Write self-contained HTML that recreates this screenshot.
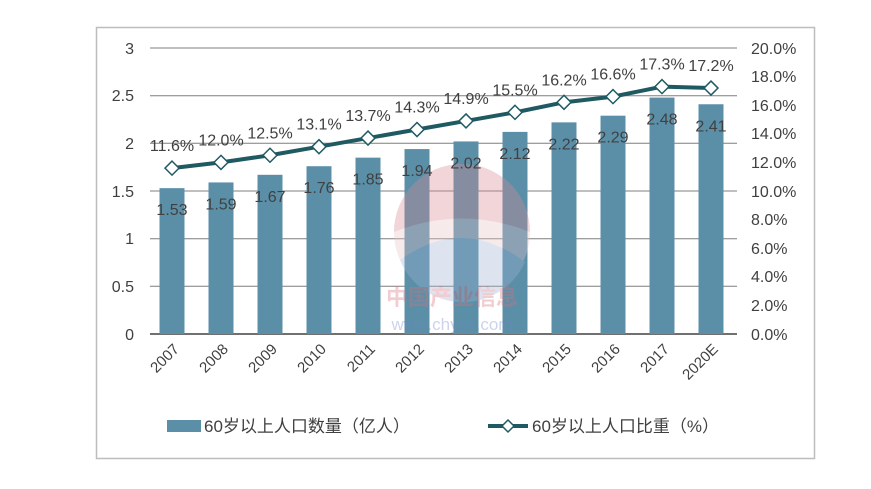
<!DOCTYPE html>
<html><head><meta charset="utf-8"><style>
body{margin:0;background:#fff;}
svg text{font-family:"Liberation Sans","Noto Sans CJK SC",sans-serif;fill:#404040;}
</style></head><body>
<svg width="871" height="484" viewBox="0 0 871 484" xmlns="http://www.w3.org/2000/svg">
<rect x="96.5" y="27.5" width="718" height="431" fill="#fff" stroke="#bdbdbd" stroke-width="1.5"/>
<g stroke="#7f7f7f" stroke-width="1">
<line x1="150" y1="48" x2="737" y2="48"/><line x1="150" y1="95.7" x2="737" y2="95.7"/>
<line x1="150" y1="143.3" x2="737" y2="143.3"/><line x1="150" y1="191" x2="737" y2="191"/>
<line x1="150" y1="238.7" x2="737" y2="238.7"/><line x1="150" y1="286.3" x2="737" y2="286.3"/>
<line x1="150" y1="334" x2="737" y2="334" stroke="#404040" stroke-width="1.5"/>
</g>
<g font-size="16" text-anchor="end">
<text x="134" y="54">3</text><text x="134" y="101">2.5</text><text x="134" y="149">2</text>
<text x="134" y="197">1.5</text><text x="134" y="244">1</text><text x="134" y="292">0.5</text><text x="134" y="340">0</text>
</g>
<g font-size="16">
<text x="751" y="54">20.0%</text><text x="751" y="82">18.0%</text><text x="751" y="111">16.0%</text>
<text x="751" y="139">14.0%</text><text x="751" y="168">12.0%</text><text x="751" y="197">10.0%</text>
<text x="751" y="225">8.0%</text><text x="751" y="254">6.0%</text><text x="751" y="282">4.0%</text>
<text x="751" y="311">2.0%</text><text x="751" y="340">0.0%</text>
</g>
<g id="bars" fill="#5b8fa8"></g>
<!-- watermark -->
<g opacity="0.35">
<circle cx="462" cy="232" r="68" fill="#e8c4c8"/>
<path d="M394 232 A68 68 0 0 1 530 232 Q462 205 394 232Z" fill="#d98a94"/>
<path d="M400 260 Q462 215 525 262 A68 68 0 0 1 400 260Z" fill="#9fb3d6"/>
<text x="452" y="305" text-anchor="middle" font-size="22" style="fill:#d9707c;font-weight:bold">中国产业信息</text>
<text x="452" y="330" text-anchor="middle" font-size="17" style="fill:#6f84c8">www.chyxx.com</text>
</g>
<g id="blabels" font-size="16" text-anchor="middle"></g>
<polyline id="line" fill="none" stroke="#1f5a63" stroke-width="4"/>
<g id="marks" fill="#fff" stroke="#1f5a63" stroke-width="1.5"></g>
<g id="plabels" font-size="16" text-anchor="middle"></g>
<g id="xlabels" font-size="15" text-anchor="end"></g>
<rect x="167" y="420" width="34" height="12" fill="#5b8fa8"/>
<text x="204" y="432" font-size="17">60岁以上人口数量（亿人）</text>
<line x1="488" y1="426" x2="528" y2="426" stroke="#1f5a63" stroke-width="4"/>
<path d="M508 420 L514 426 L508 432 L502 426Z" fill="#fff" stroke="#1f5a63" stroke-width="1.5"/>
<text x="532" y="432" font-size="17">60岁以上人口比重（%）</text>
</svg>
<script>
const ns="http://www.w3.org/2000/svg";
const yrs=["2007","2008","2009","2010","2011","2012","2013","2014","2015","2016","2017","2020E"];
const v=[1.53,1.59,1.67,1.76,1.85,1.94,2.02,2.12,2.22,2.29,2.48,2.41];
const p=[11.6,12.0,12.5,13.1,13.7,14.3,14.9,15.5,16.2,16.6,17.3,17.2];
function el(t,a,par,txt){const e=document.createElementNS(ns,t);for(const k in a)e.setAttribute(k,a[k]);if(txt)e.textContent=txt;document.getElementById(par).appendChild(e);return e;}
let pts=[];
for(let i=0;i<12;i++){
 const cx=172+i*49.0;
 const top=334-v[i]*95.33;
 el("rect",{x:cx-12.5,y:top,width:25,height:334-top},"bars");
 el("text",{x:cx,y:top+27},"blabels",v[i].toFixed(2));
 const py=334-p[i]/20*286;
 pts.push(cx+","+py);
 el("path",{d:`M${cx} ${py-7}L${cx+7} ${py}L${cx} ${py+7}L${cx-7} ${py}Z`},"marks");
 el("text",{x:cx,y:py-17},"plabels",p[i].toFixed(1)+"%");
 el("text",{x:cx+8,y:350,transform:`rotate(-45 ${cx+8} 350)`},"xlabels",yrs[i]);
}
document.getElementById("line").setAttribute("points",pts.join(" "));
</script>
</body></html>
